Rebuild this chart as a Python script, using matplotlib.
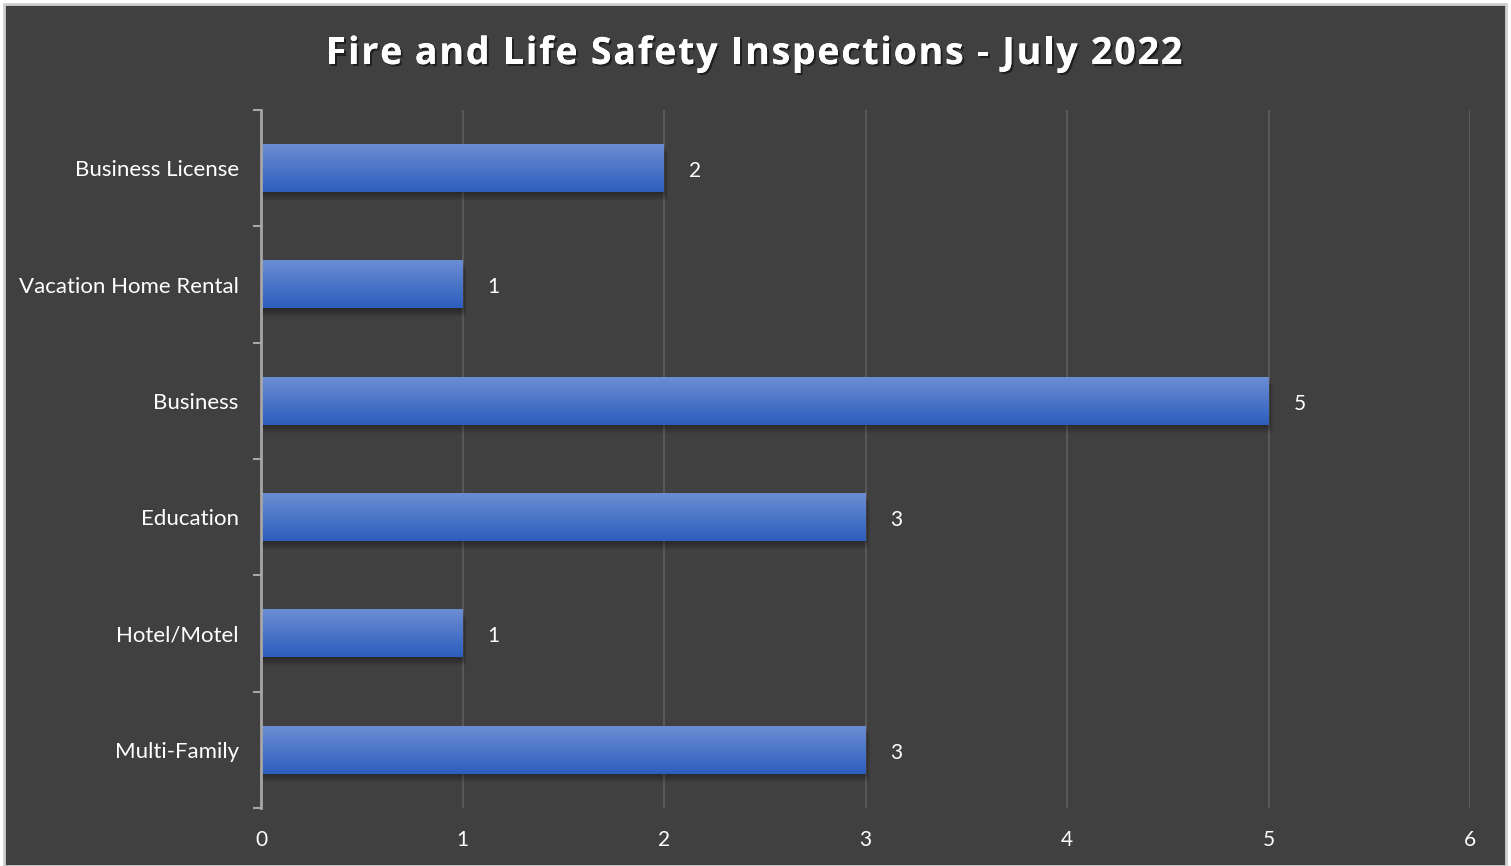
import numpy as np
import matplotlib.pyplot as plt
from matplotlib.patches import Rectangle
from matplotlib.colors import LinearSegmentedColormap
import matplotlib.patheffects as pe

categories = ['Business License', 'Vacation Home Rental', 'Business',
              'Education', 'Hotel/Motel', 'Multi-Family']
values = [2, 1, 5, 3, 1, 3]
xticks = [0, 1, 2, 3, 4, 5, 6]
title = 'Fire and Life Safety Inspections - July 2022'

plt.rcParams['font.family'] = ['Lato', 'DejaVu Sans']

W, H = 1511, 866
fig = plt.figure(figsize=(W / 100, H / 100), dpi=100, facecolor='white')
# dark chart area with light frame
fig.patches.append(Rectangle((4 / W, 0), 1502 / W, 862 / H, transform=fig.transFigure,
                             facecolor='#404040', edgecolor='#d0d0d0', linewidth=2, zorder=-1))

ax = fig.add_axes([261 / W, 58 / H, 1209 / W, 698 / H])
ax.set_facecolor('none')

n = len(categories)
ypos = np.arange(n)[::-1]  # first category at top
bh = 0.41

grad = np.linspace(0, 1, 64).reshape(-1, 1)
cmap = LinearSegmentedColormap.from_list('bar', ['#6b8dd3', '#2d5ebd'])

for y, v in zip(ypos, values):
    # soft shadow under the bar
    for k in range(6):
        d = 0.012 * (k + 1)
        ax.add_patch(Rectangle((0, y - bh / 2 - d), v + 0.02 * (k + 1) / 6, bh,
                               facecolor='black', alpha=0.06, linewidth=0, zorder=2))
    # gradient bar
    ax.imshow(grad, extent=[0, v, y - bh / 2, y + bh / 2], cmap=cmap,
              aspect='auto', origin='upper', zorder=3, interpolation='bilinear')
    ax.annotate(str(v), (v, y), xytext=(18, -2), textcoords='offset points',
                va='center', ha='left', color='white', fontsize=15)

ax.set_xlim(0, 6)
ax.set_ylim(-0.5, n - 0.5)
ax.set_xticks(xticks)
ax.set_xticklabels([str(t) for t in xticks], color='white', fontsize=15)
ax.tick_params(axis='x', length=0, pad=16)
ax.grid(axis='x', color='#585858', linewidth=1.5, zorder=1)
ax.set_axisbelow(True)

ax.set_yticks(ypos)
ax.set_yticklabels(categories, color='white', fontsize=16)
ax.set_yticks(np.arange(-0.5, n, 1), minor=True)
ax.tick_params(axis='y', which='major', length=0, pad=16)
ax.tick_params(axis='y', which='minor', length=6, width=1.5, color='#a6a6a6', direction='out')

for s in ['top', 'right', 'bottom']:
    ax.spines[s].set_visible(False)
ax.spines['left'].set_color('#a6a6a6')
ax.spines['left'].set_linewidth(2)
ax.spines['left'].set_zorder(5)

# title with letter spacing: place characters one by one
renderer = fig.canvas.get_renderer()
tkw = dict(color='white', fontsize=27, fontweight='bold', va='center', ha='left',
           family=['Open Sans', 'DejaVu Sans'],
           path_effects=[pe.withSimplePatchShadow(offset=(1.5, -1.5), shadow_rgbFace='black', alpha=0.5),
                         pe.Normal()])

def text_width(s):
    t = fig.text(0, 0, s, **tkw)
    w = t.get_window_extent(renderer).width
    t.remove()
    return w

# measure prefixes with a trailing '|' so spaces are counted
bar_w = text_width('|')
ends = [text_width(title[:i + 1] + '|') - bar_w for i in range(len(title))]
starts = [0] + ends[:-1]
spacing = 1.8
total = ends[-1] + spacing * (len(title) - 1)
x0 = 754 - total / 2
for i, ch in enumerate(title):
    if ch != ' ':
        fig.text((x0 + starts[i] + spacing * i) / W, 1 - 54 / H, ch, **tkw)

fig.savefig('out.png', dpi=100)
